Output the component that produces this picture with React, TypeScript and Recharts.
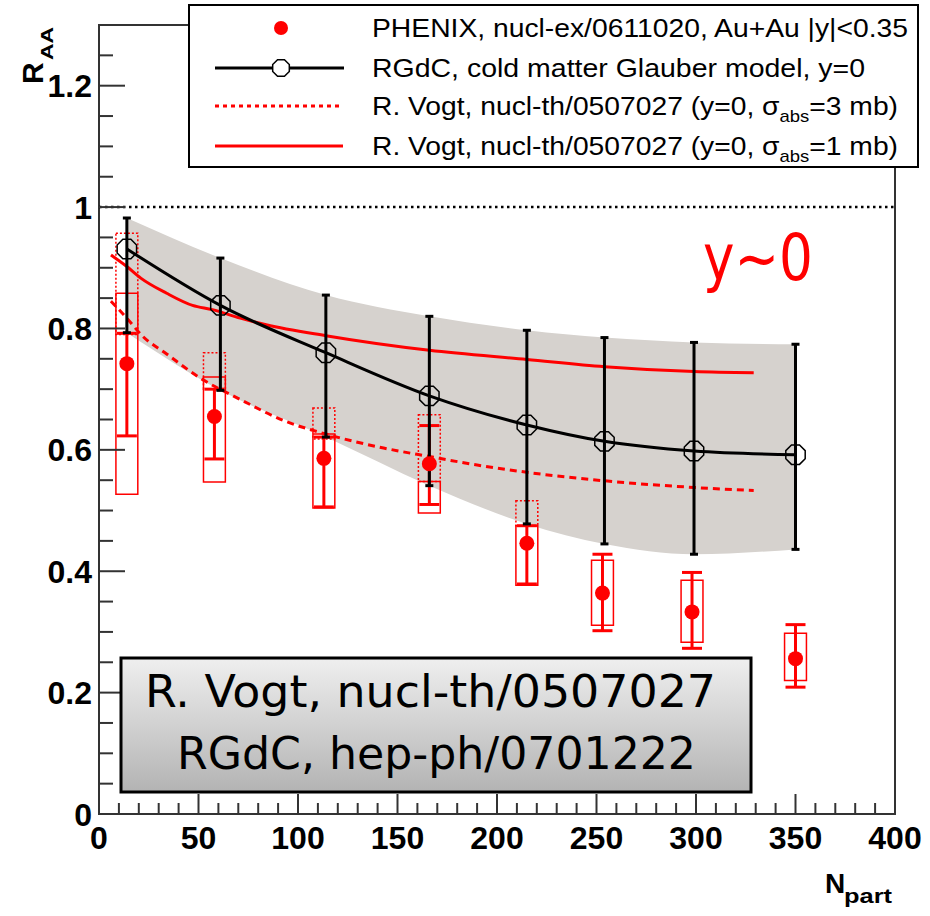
import {
  ComposedChart,
  Line,
  Area,
  Scatter,
  ErrorBar,
  XAxis,
  YAxis,
  ReferenceLine,
  ReferenceArea,
} from "recharts"

// PHENIX J/psi Au+Au, |y|<0.35
const phenixNpart = [14, 58, 113, 166, 215, 253, 298, 350]
const phenixR = [0.742, 0.655, 0.586, 0.577, 0.446, 0.364, 0.333, 0.256]
const phenixStatLo = [0.623, 0.585, 0.506, 0.51, 0.379, 0.302, 0.273, 0.209]
const phenixStatHi = [0.792, 0.7, 0.621, 0.64, 0.475, 0.428, 0.398, 0.312]
const phenixSysLo = [0.527, 0.547, 0.504, 0.496, 0.377, 0.311, 0.283, 0.22]
const phenixSysHi = [0.858, 0.72, 0.626, 0.548, 0.475, 0.418, 0.385, 0.298]
const phenixSys2Lo = [0.79, 0.7, 0.618, 0.548, 0.475, null, null, null]
const phenixSys2Hi = [0.957, 0.76, 0.669, 0.658, 0.516, null, null, null]

// RGdC cold matter Glauber model
const glauberNpart = [14, 61, 114, 166, 215, 254, 299, 350]
const glauberR = [0.931, 0.838, 0.76, 0.689, 0.641, 0.614, 0.598, 0.592]
const glauberLo = [0.793, 0.698, 0.621, 0.541, 0.478, 0.445, 0.428, 0.436]
const glauberHi = [0.982, 0.916, 0.855, 0.82, 0.797, 0.785, 0.777, 0.774]

// R. Vogt, sigma_abs = 1 mb
const vogt1Npart = [6, 14, 21, 34, 47, 57, 71, 84, 114, 166, 215, 254, 299, 329]
const vogt1R = [0.921, 0.902, 0.883, 0.858, 0.838, 0.831, 0.817, 0.806, 0.788, 0.764, 0.749, 0.737, 0.729, 0.727]

// R. Vogt, sigma_abs = 3 mb
const vogt3Npart = [6, 14, 22, 34, 51, 71, 93, 114, 143, 166, 190, 215, 254, 299, 329]
const vogt3R = [0.845, 0.817, 0.787, 0.758, 0.718, 0.683, 0.648, 0.626, 0.603, 0.589, 0.575, 0.563, 0.549, 0.538, 0.533]

const xMajor = [0, 50, 100, 150, 200, 250, 300, 350, 400]
const yMajor = [0, 0.2, 0.4, 0.6, 0.8, 1, 1.2]
const xTicks = Array.from({ length: 41 }, (_, i) => i * 10)
const yTicks = Array.from({ length: 27 }, (_, i) => Math.round(i * 5) / 100)

const legendLabels = [
  "PHENIX, nucl-ex/0611020, Au+Au |y|<0.35",
  "RGdC, cold matter Glauber model, y=0",
  "R. Vogt, nucl-th/0507027 (y=0, ",
]

const phenixRows = phenixNpart.map((x, i) => ({
  x,
  r: phenixR[i],
  err: [phenixR[i] - phenixStatLo[i], phenixStatHi[i] - phenixR[i]],
}))
const glauberRows = glauberNpart.map((x, i) => ({
  x,
  r: glauberR[i],
  band: [glauberLo[i], glauberHi[i]],
  err: [glauberR[i] - glauberLo[i], glauberHi[i] - glauberR[i]],
}))
const vogt1Rows = vogt1Npart.map((x, i) => ({ x, r: vogt1R[i] }))
const vogt3Rows = vogt3Npart.map((x, i) => ({ x, r: vogt3R[i] }))

const BOX_HALF = 5.5
const AXIS = "#333"
const RED = "#ff0000"
const FONT = "'Liberation Sans', Arial, Helvetica, sans-serif"

const octagon = (cx: number, cy: number, r: number) =>
  Array.from({ length: 8 }, (_, k) => {
    const a = (Math.PI / 8) * (2 * k + 1)
    return `${cx + r * Math.cos(a)},${cy + r * Math.sin(a)}`
  }).join(" ")

function renderXTick(props: any) {
  const { x, y, payload } = props
  const major = xMajor.includes(payload.value)
  return (
    <g key={"xt" + payload.value}>
      <line x1={x} x2={x} y1={y} y2={y - (major ? 20 : 11)} stroke={AXIS} strokeWidth={2} />
      {major && (
        <text x={x} y={y + 35} textAnchor="middle" fontSize={32} fontWeight="bold" fontFamily={FONT} fill="#000">
          {payload.value}
        </text>
      )}
    </g>
  )
}

function renderYTick(props: any) {
  const { x, y, payload } = props
  const major = yMajor.some((v) => Math.abs(v - payload.value) < 1e-6)
  return (
    <g key={"yt" + payload.value}>
      <line x1={x} x2={x + (major ? 26 : 14)} y1={y} y2={y} stroke={AXIS} strokeWidth={2} />
      {major && (
        <text x={x - 7} y={y + 11.5} textAnchor="end" fontSize={32} fontWeight="bold" fontFamily={FONT} fill="#000">
          {payload.value}
        </text>
      )}
    </g>
  )
}

function GlauberDot(props: any) {
  const { cx, cy } = props
  if (cx == null || cy == null) return null
  return <polygon points={octagon(cx, cy, 10.5)} fill="none" stroke="#000" strokeWidth={1.5} />
}

function PhenixDot(props: any) {
  const { cx, cy } = props
  return <circle cx={cx} cy={cy} r={7.5} fill={RED} />
}

function Overlay() {
  return (
    <svg width={930} height={916} style={{ position: "absolute", left: 0, top: 0, pointerEvents: "none" }}>
      <defs>
        <linearGradient id="boxGrad" x1="0" y1="0" x2="0" y2="1">
          <stop offset="0%" stopColor="#efefef" />
          <stop offset="100%" stopColor="#b3b3b3" />
        </linearGradient>
      </defs>

      {/* legend */}
      <rect x={189} y={5} width={729} height={162} fill="#fff" stroke="#000" strokeWidth={2} />
      <circle cx={281} cy={28} r={7} fill={RED} />
      <line x1={215} x2={344} y1={68} y2={68} stroke="#000" strokeWidth={3} />
      <polygon points={octagon(281, 68, 9)} fill="#fff" stroke="#000" strokeWidth={1.5} />
      <line x1={215} x2={339} y1={106} y2={106} stroke={RED} strokeWidth={3} strokeDasharray="4 4" />
      <line x1={215} x2={343} y1={146} y2={146} stroke={RED} strokeWidth={3} />
      <g fontFamily={FONT} fontSize={26} fill="#000">
        <text x={372} y={37} textLength={536} lengthAdjust="spacingAndGlyphs">{legendLabels[0]}</text>
        <text x={372} y={77} textLength={493} lengthAdjust="spacingAndGlyphs">{legendLabels[1]}</text>
        <text x={372} y={115} textLength={526} lengthAdjust="spacingAndGlyphs">
          {legendLabels[2]}σ<tspan fontSize={17} dy={7}>abs</tspan>
          <tspan dy={-7}>=3 mb)</tspan>
        </text>
        <text x={372} y={155} textLength={526} lengthAdjust="spacingAndGlyphs">
          {legendLabels[2]}σ<tspan fontSize={17} dy={7}>abs</tspan>
          <tspan dy={-7}>=1 mb)</tspan>
        </text>
      </g>

      {/* axis titles */}
      <g fontFamily={FONT} fontWeight="bold" fill="#000">
        <text x={43} y={84} fontSize={30} transform="rotate(-90 43 84)">R</text>
        <text x={53} y={60} fontSize={17} textLength={33} lengthAdjust="spacingAndGlyphs" transform="rotate(-90 53 60)">AA</text>
        <text x={825} y={893} fontSize={28}>N</text>
        <text x={844} y={903} fontSize={21} textLength={48} lengthAdjust="spacingAndGlyphs">part</text>
      </g>

      {/* y~0 */}
      <text x={703} y={280} fontFamily="'DejaVu Sans', sans-serif" fontSize={64} fill={RED} textLength={110} lengthAdjust="spacingAndGlyphs">
        y~0
      </text>

      {/* reference box */}
      <rect x={121} y={658} width={630} height={134} fill="url(#boxGrad)" stroke="#000" strokeWidth={3} />
      <g fontFamily="'DejaVu Sans', sans-serif" fontSize={45} fill="#000">
        <text x={145} y={707} textLength={571} lengthAdjust="spacingAndGlyphs">R. Vogt, nucl-th/0507027</text>
        <text x={177} y={769} textLength={519} lengthAdjust="spacingAndGlyphs">RGdC, hep-ph/0701222</text>
      </g>
    </svg>
  )
}

export default function App() {
  return (
    <div style={{ position: "absolute", left: 0, top: 0, width: 930, height: 916, background: "#fff" }}>
      <ComposedChart width={930} height={916} margin={{ top: 25, right: 35, bottom: 101, left: 98 }}>
        <XAxis
          type="number"
          dataKey="x"
          domain={[0, 400]}
          ticks={xTicks}
          interval={0}
          tick={renderXTick}
          tickLine={false}
          tickSize={0}
          tickMargin={0}
          height={1}
          axisLine={false}
          allowDataOverflow
        />
        <YAxis
          type="number"
          domain={[0, 1.3]}
          ticks={yTicks}
          interval={0}
          tick={renderYTick}
          tickLine={false}
          tickSize={0}
          tickMargin={0}
          width={1}
          axisLine={false}
          allowDataOverflow
        />

        <Area
          data={glauberRows}
          dataKey="band"
          type="monotone"
          fill="#d6d2ce"
          fillOpacity={1}
          stroke="none"
          isAnimationActive={false}
        />

        <ReferenceLine y={1} stroke="#000" strokeWidth={2.5} strokeDasharray="2.5 3.5" />

        {phenixNpart.map((x, i) => (
          <ReferenceArea
            key={"s" + i}
            x1={x - BOX_HALF}
            x2={x + BOX_HALF}
            y1={phenixSysLo[i]}
            y2={phenixSysHi[i]}
            fill="none"
            fillOpacity={0}
            stroke={RED}
            strokeWidth={1.5}
          />
        ))}
        {phenixNpart.map((x, i) =>
          phenixSys2Lo[i] == null ? null : (
            <ReferenceArea
              key={"d" + i}
              x1={x - BOX_HALF}
              x2={x + BOX_HALF}
              y1={phenixSys2Lo[i] as number}
              y2={phenixSys2Hi[i] as number}
              fill="none"
              fillOpacity={0}
              stroke={RED}
              strokeWidth={1.5}
              strokeDasharray="2 2"
            />
          )
        )}

        <Line
          data={vogt3Rows}
          dataKey="r"
          type="monotone"
          stroke={RED}
          strokeWidth={3}
          strokeDasharray="7 5"
          dot={false}
          isAnimationActive={false}
        />
        <Line
          data={vogt1Rows}
          dataKey="r"
          type="monotone"
          stroke={RED}
          strokeWidth={3}
          dot={false}
          isAnimationActive={false}
        />

        <Scatter data={phenixRows} dataKey="r" fill={RED} shape={<PhenixDot />} isAnimationActive={false}>
          <ErrorBar dataKey="err" direction="y" width={10} stroke={RED} strokeWidth={3} />
        </Scatter>

        <Line
          data={glauberRows}
          dataKey="r"
          type="monotone"
          stroke="#000"
          strokeWidth={3}
          dot={<GlauberDot />}
          isAnimationActive={false}
        >
          <ErrorBar dataKey="err" direction="y" width={4} stroke="#000" strokeWidth={3} />
        </Line>

        <ReferenceArea x1={0} x2={400} y1={0} y2={1.3} fill="none" fillOpacity={0} stroke={AXIS} strokeWidth={2} />
      </ComposedChart>
      <Overlay />
    </div>
  )
}
